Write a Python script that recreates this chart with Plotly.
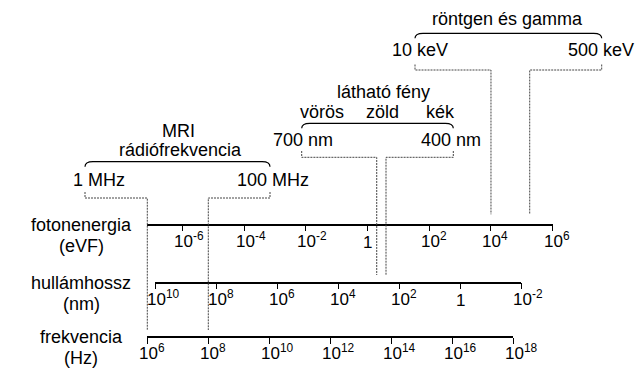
import math
import plotly.graph_objects as go

W, H = 644, 370

# ---------------- data ----------------
freq_ticks = [1e6, 1e8, 1e10, 1e12, 1e14, 1e16, 1e18]          # Hz
wave_ticks = [1e10, 1e8, 1e6, 1e4, 1e2, 1, 1e-2]               # nm
energy_ticks = [1e-6, 1e-4, 1e-2, 1, 1e2, 1e4, 1e6]            # eV

axis_names = ["fotonenergia", "hullámhossz", "frekvencia"]
axis_units = ["(eVF)", "(nm)", "(Hz)"]

mri_title = ["MRI", "rádiófrekvencia"]
mri_edges_hz = [1e6, 1e8]
mri_labels = ["1 MHz", "100 MHz"]

visible_title = "látható fény"
visible_colors = ["vörös", "zöld", "kék"]
visible_edges_nm = [550, 273]          # where the guide lines meet the wavelength axis (as drawn)
visible_labels = ["700 nm", "400 nm"]

xray_title = "röntgen és gamma"
xray_edges_ev = [1e4, 1.8e5]           # where the guide lines meet the energy axis (as drawn)
xray_labels = ["10 keV", "500 keV"]

# ---------------- layout constants ----------------
FONT = "Liberation Sans, Arial, sans-serif"
LBL = 18
TCK = 17

AX = {
    "energy": dict(name="xaxis3", ref="x3", px0=147.3, px1=552.7, lo=-7.134, hi=6.0, y=224.5, ticks=energy_ticks),
    "wave":   dict(name="xaxis2", ref="x2", px0=155.3, px1=521.3, lo=10.0, hi=-2.0, y=282.7, ticks=wave_ticks),
    "freq":   dict(name="xaxis",  ref="x",  px0=147.3, px1=513.3, lo=6.0, hi=18.0, y=337.3, ticks=freq_ticks),
}


def to_px(ax, v):
    a = AX[ax]
    return a["px0"] + (math.log10(v) - a["lo"]) / (a["hi"] - a["lo"]) * (a["px1"] - a["px0"])


fig = go.Figure()
layout = dict(
    width=W, height=H, margin=dict(l=0, r=0, t=0, b=0),
    paper_bgcolor="white", plot_bgcolor="rgba(0,0,0,0)",
    showlegend=False,
    font=dict(family=FONT, size=LBL, color="black"),
    xaxis4=dict(range=[0, W], domain=[0, 1], visible=False, anchor="y"),
    yaxis=dict(range=[H, 0], domain=[0, 1], visible=False, anchor="x4"),
)

annotations = []
shapes = []

for key, a in AX.items():
    layout[a["name"]] = dict(
        type="log", range=[a["lo"], a["hi"]],
        domain=[a["px0"] / W, a["px1"] / W],
        anchor="free", position=1 - a["y"] / H,
        showline=True, linecolor="black", linewidth=1.5,
        ticks="outside", ticklen=6, tickwidth=1.3, tickcolor="black",
        tickvals=a["ticks"], showticklabels=False,
        showgrid=False, zeroline=False, fixedrange=True,
    )
    fig.add_trace(go.Scatter(x=a["ticks"], y=[None] * len(a["ticks"]),
                             xaxis=a["ref"], yaxis="y", mode="markers",
                             hoverinfo="skip", showlegend=False))
    for v in a["ticks"]:
        e = round(math.log10(v))
        if e == 0:
            annotations.append(dict(x=0, xref=a["ref"], y=a["y"] + 18, yref="y",
                                    text="1", showarrow=False, xanchor="center",
                                    yanchor="middle", font=dict(size=TCK)))
        else:
            annotations.append(dict(x=e, xref=a["ref"], y=a["y"] + 15, yref="y",
                                    text="10<sup>%s</sup>" % ("-%d" % -e if e < 0 else "%d" % e),
                                    showarrow=False, xanchor="left", xshift=-10.5,
                                    yanchor="middle", font=dict(size=TCK)))

fig.add_trace(go.Scatter(x=[0], y=[None], xaxis="x4", yaxis="y", mode="markers",
                         hoverinfo="skip", showlegend=False))

# axis titles
for name, unit, key in zip(axis_names, axis_units, ["energy", "wave", "freq"]):
    y = AX[key]["y"]
    annotations.append(dict(x=81, y=y, xref="x4", yref="y", text=name, showarrow=False,
                            xanchor="center", yanchor="middle", font=dict(size=LBL)))
    annotations.append(dict(x=81, y=y + 21, xref="x4", yref="y", text=unit, showarrow=False,
                            xanchor="center", yanchor="middle", font=dict(size=LBL)))


def text(x, y, s):
    annotations.append(dict(x=x, y=y, xref="x4", yref="y", text=s, showarrow=False,
                            xanchor="center", yanchor="middle", font=dict(size=LBL)))


def brace(x0, x1, y, drop=5, r=8):
    path = (f"M {x0},{y + drop} Q {x0},{y} {x0 + r},{y} L {x1 - r},{y} "
            f"Q {x1},{y} {x1},{y + drop}")
    shapes.append(dict(type="path", path=path, xref="x4", yref="y",
                       line=dict(color="black", width=1.2)))


DOT = dict(color="#444", width=1, dash="2px,1px")


def guide(xb, yb_top, yb, xa, ya_end):
    # small tick under label, horizontal run, then drop to axis
    path = f"M {xb},{yb_top} L {xb},{yb} L {xa},{yb} L {xa},{ya_end}"
    shapes.append(dict(type="path", path=path, xref="x4", yref="y", line=DOT))


# --- MRI / radio ---
text(178, 131, mri_title[0])
text(180.5, 149.5, mri_title[1])
brace(85, 270, 161.7)
text(99, 180, mri_labels[0])
text(273, 180, mri_labels[1])
guide(85, 192, 198, to_px("freq", mri_edges_hz[0]), 330)
guide(270, 192, 198, to_px("freq", mri_edges_hz[1]), 330)

# --- visible light ---
text(383, 92, visible_title)
for cx, s in zip([321.7, 382.5, 440.8], visible_colors):
    text(cx, 112, s)
brace(301.7, 453.3, 123.3)
text(302.5, 140, visible_labels[0])
text(450.8, 140, visible_labels[1])
guide(301.7, 151, 157.3, to_px("wave", visible_edges_nm[0]), 275)
guide(453.3, 151, 157.3, to_px("wave", visible_edges_nm[1]), 275)

# --- x-ray / gamma ---
text(507.5, 18.5, xray_title)
brace(415, 601.7, 33.3)
text(420, 50, xray_labels[0])
text(601, 50, xray_labels[1])
guide(415, 64.5, 70, to_px("energy", xray_edges_ev[0]), 214.3)
guide(601.7, 64.5, 70, to_px("energy", xray_edges_ev[1]), 214.3)

layout["annotations"] = annotations
layout["shapes"] = shapes
fig.update_layout(**layout)
fig.write_html("out.html", config={"displayModeBar": False},
               post_script="document.body.style.margin='0px';document.body.style.overflow='hidden';")
